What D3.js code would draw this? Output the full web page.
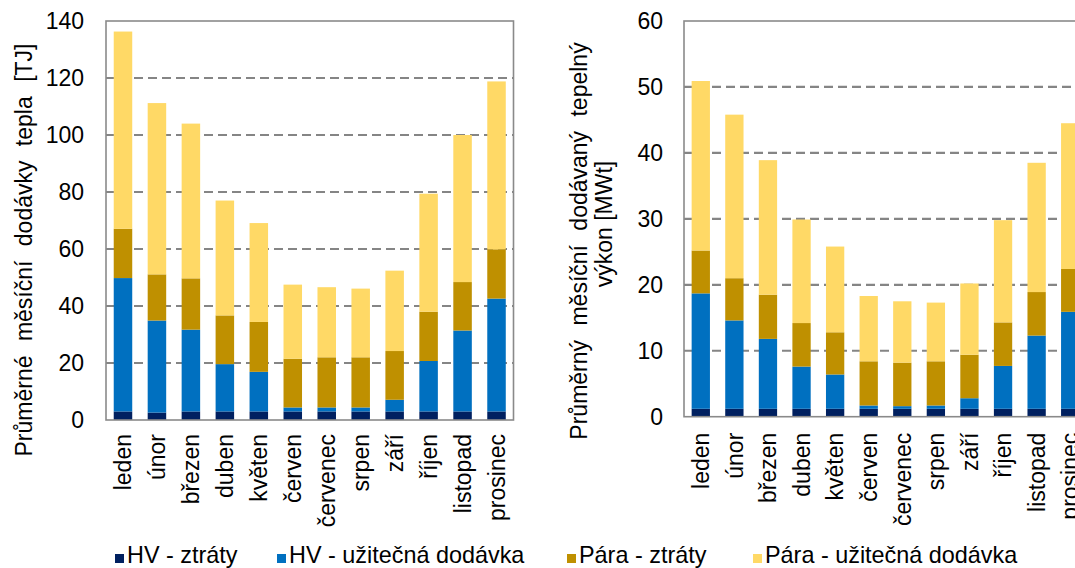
<!DOCTYPE html>
<html>
<head>
<meta charset="utf-8">
<script src="https://cdn.jsdelivr.net/npm/d3@7"></script>
<style>
  html, body { margin: 0; padding: 0; background: #fff; }
  svg { display: block; font-family: "Liberation Sans", Arial, sans-serif; }
</style>
</head>
<body>
<svg id="chart" width="1075" height="568"></svg>
<script>
// Months (x categories)
const months = ["leden", "únor", "březen", "duben", "květen", "červen",
                "červenec", "srpen", "září", "říjen", "listopad", "prosinec"];

// Series names (legend, bottom-to-top stacking order)
const seriesNames = ["HV - ztráty", "HV - užitečná dodávka", "Pára - ztráty", "Pára - užitečná dodávka"];
const seriesColors = ["#002060", "#0070C0", "#BF9000", "#FFD966"];

// Average monthly heat supply [TJ]
const heatHvLoss      = [3.0, 2.6, 3.0, 3.0, 3.0, 3.0, 3.0, 3.0, 3.0, 3.0, 3.0, 3.0];
const heatHvUseful    = [46.8, 32.3, 28.7, 16.6, 13.9, 1.4, 1.4, 1.4, 4.1, 17.7, 28.4, 39.6];
const heatSteamLoss   = [17.3, 16.2, 18.0, 17.1, 17.5, 17.1, 17.6, 17.6, 17.1, 17.3, 17.0, 17.3];
const heatSteamUseful = [69.2, 60.1, 54.3, 40.3, 34.7, 26.0, 24.6, 24.1, 28.2, 41.4, 51.6, 58.9];
const heatTicks = [0, 20, 40, 60, 80, 100, 120, 140];

// Average monthly supplied heat output [MWt]
const powerHvLoss      = [1.2, 1.2, 1.2, 1.2, 1.2, 1.2, 1.2, 1.2, 1.2, 1.2, 1.2, 1.2];
const powerHvUseful    = [17.5, 13.4, 10.6, 6.4, 5.2, 0.5, 0.4, 0.5, 1.6, 6.5, 11.1, 14.7];
const powerSteamLoss   = [6.5, 6.4, 6.7, 6.6, 6.4, 6.7, 6.6, 6.7, 6.6, 6.6, 6.6, 6.5];
const powerSteamUseful = [25.7, 24.8, 20.4, 15.7, 13.0, 9.9, 9.3, 8.9, 10.8, 15.5, 19.6, 22.1];
const powerTicks = [0, 10, 20, 30, 40, 50, 60];

const svg = d3.select("#chart");
const FONT = 23;

function rows(a, b, c, d) {
  return months.map((m, i) => ({ month: m, s0: a[i], s1: b[i], s2: c[i], s3: d[i] }));
}

function drawPanel(opt) {
  const g = svg.append("g");
  const x = d3.scaleBand().domain(months)
    .range([opt.x0, opt.x1]).paddingInner(0.455).paddingOuter(0.2275);
  const y = d3.scaleLinear().domain([0, opt.ticks[opt.ticks.length - 1]])
    .range([opt.yBottom, opt.yTop]);

  // dashed horizontal gridlines
  g.append("g").selectAll("line")
    .data(opt.ticks.slice(1, -1))
    .join("line")
    .attr("x1", opt.x0).attr("x2", opt.x1)
    .attr("y1", d => y(d)).attr("y2", d => y(d))
    .attr("stroke", "#858585").attr("stroke-width", 2.2)
    .attr("stroke-dasharray", "9,5");

  // stacked bars
  const stack = d3.stack().keys(["s0", "s1", "s2", "s3"]);
  const layers = stack(opt.data);
  g.append("g").selectAll("g")
    .data(layers)
    .join("g")
    .attr("fill", (d, i) => seriesColors[i])
    .selectAll("rect")
    .data(d => d)
    .join("rect")
    .attr("x", d => x(d.data.month))
    .attr("width", x.bandwidth())
    .attr("y", d => y(d[1]))
    .attr("height", d => y(d[0]) - y(d[1]));

  // plot frame
  g.append("rect")
    .attr("x", opt.x0).attr("y", y.range()[1])
    .attr("width", opt.x1 - opt.x0).attr("height", y.range()[0] - y.range()[1])
    .attr("fill", "none").attr("stroke", "#8a8a8a").attr("stroke-width", 1.6);

  // y axis labels
  const ya = g.append("g")
    .attr("transform", `translate(${opt.x0},0)`)
    .call(d3.axisLeft(y).tickValues(opt.ticks).tickSize(0).tickPadding(opt.tickPad));
  ya.select(".domain").remove();
  ya.selectAll("text").attr("font-size", FONT).attr("fill", "#000")
    .attr("font-family", "Liberation Sans, Arial, sans-serif");

  // x axis labels (rotated)
  const xa = g.append("g")
    .attr("transform", `translate(0,${opt.yBottom})`)
    .call(d3.axisBottom(x).tickSize(0));
  xa.select(".domain").remove();
  xa.selectAll("text")
    .attr("font-size", FONT).attr("fill", "#000")
    .attr("font-family", "Liberation Sans, Arial, sans-serif")
    .attr("text-anchor", "end")
    .attr("transform", "rotate(-90)")
    .attr("x", -opt.labelGap).attr("y", 0).attr("dy", "0.36em");

  // y axis title (one or more lines)
  opt.title.forEach((t, i) => {
    g.append("text")
      .attr("transform", `translate(${t.x},${t.y}) rotate(-90)`)
      .attr("text-anchor", "middle")
      .attr("dominant-baseline", "central")
      .attr("font-size", FONT).attr("fill", "#000")
      .attr("word-spacing", t.ws || 0)
      .text(t.text);
  });
}

drawPanel({
  data: rows(heatHvLoss, heatHvUseful, heatSteamLoss, heatSteamUseful),
  ticks: heatTicks,
  x0: 106, x1: 513.5, yTop: 21, yBottom: 420,
  tickPad: 22, labelGap: 14,
  title: [{ text: "Průměrné měsíční dodávky tepla [TJ]", x: 24, y: 250, ws: 8 }]
});

drawPanel({
  data: rows(powerHvLoss, powerHvUseful, powerSteamLoss, powerSteamUseful),
  ticks: powerTicks,
  x0: 684, x1: 1087, yTop: 21, yBottom: 416.7,
  tickPad: 21, labelGap: 16,
  title: [
    { text: "Průměrný měsíční dodávaný tepelný", x: 579, y: 241, ws: 8 },
    { text: "výkon [MWt]", x: 604, y: 224 }
  ]
});

// legend
const legendX = [115, 277, 567, 753];
const lg = svg.append("g").attr("transform", "translate(0,554)");
const items = lg.selectAll("g").data(seriesNames).join("g")
  .attr("transform", (d, i) => `translate(${legendX[i]},0)`);
items.append("rect").attr("width", 9).attr("height", 9)
  .attr("fill", (d, i) => seriesColors[i]);
items.append("text").attr("x", 12).attr("y", 9)
  .attr("font-size", 23.4).attr("fill", "#000").text(d => d);
</script>
</body>
</html>
